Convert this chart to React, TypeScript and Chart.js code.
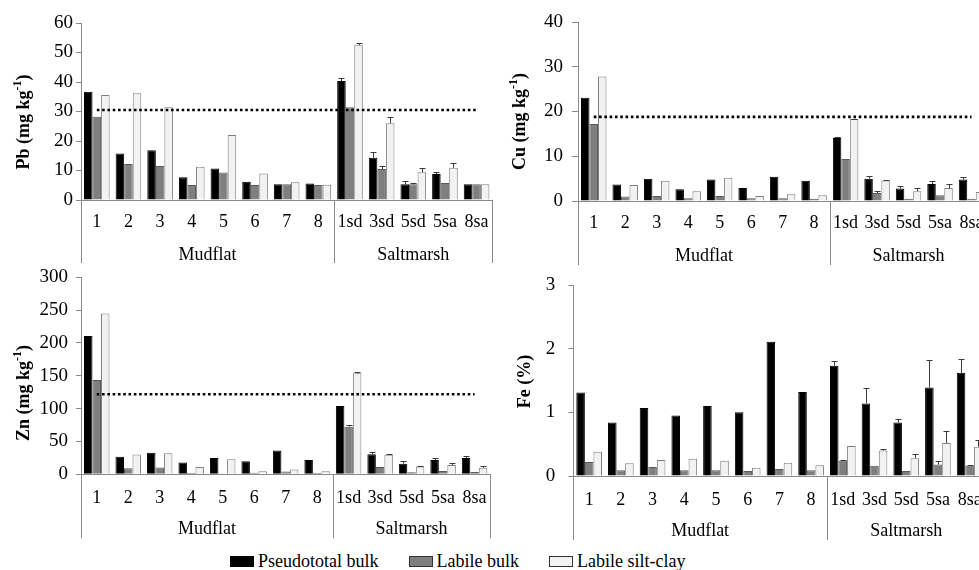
import React, { useEffect, useRef } from "react";
import { Chart, registerables } from "chart.js";

Chart.register(...registerables);

const FONT = '"Liberation Serif", "Times New Roman", serif';

// ---------- data ----------
const categories = ["1", "2", "3", "4", "5", "6", "7", "8", "1sd", "3sd", "5sd", "5sa", "8sa"];
const groups = ["Mudflat", "Saltmarsh"];
const groupSizes = [8, 5];
const seriesNames = ["Pseudototal bulk", "Labile bulk", "Labile silt-clay"];

// Pb (mg kg-1)
const pbPseudototal = [36.7, 15.8, 16.9, 7.7, 10.7, 6.2, 5.3, 5.6, 40.3, 14.3, 5.3, 8.8, 5.3];
const pbLabileBulk = [28.2, 12.2, 11.5, 5.1, 9.3, 5.1, 5.3, 5.1, 31.4, 10.5, 5.3, 5.8, 5.3];
const pbLabileSilt = [35.6, 36.2, 31.4, 11.3, 22.0, 9.0, 6.0, 5.2, 52.5, 26.0, 9.4, 10.9, 5.3];
const pbPseudototalErr = [0, 0, 0, 0, 0, 0, 0, 0, 1.0, 2.0, 1.3, 0.6, 0];
const pbLabileBulkErr = [0, 0, 0, 0, 0, 0, 0, 0, 0, 1.1, 0.5, 0, 0];
const pbLabileSiltErr = [0, 0, 0, 0, 0, 0, 0, 0, 0.6, 2.2, 1.4, 1.5, 0];
const pbThreshold = 30.5;

// Cu (mg kg-1)
const cuPseudototal = [23.1, 3.7, 5.0, 2.6, 4.8, 2.9, 5.4, 4.5, 14.1, 5.0, 2.8, 3.8, 4.8];
const cuLabileBulk = [17.2, 1.0, 1.1, 0.6, 1.1, 0.6, 0.6, 0.5, 9.4, 1.8, 0.5, 1.3, 0.5];
const cuLabileSilt = [27.8, 3.6, 4.5, 2.2, 5.2, 1.1, 1.5, 1.3, 18.3, 4.6, 2.2, 2.9, 2.0];
const cuPseudototalErr = [0, 0, 0, 0, 0, 0, 0, 0, 0.2, 0.5, 0.6, 0.7, 0.5];
const cuLabileBulkErr = [0, 0, 0, 0, 0, 0, 0, 0, 0, 0.4, 0, 0, 0];
const cuLabileSiltErr = [0, 0, 0, 0, 0, 0, 0, 0, 0.1, 0.1, 0.7, 0.9, 0];
const cuThreshold = 18.8;

// Zn (mg kg-1)
const znPseudototal = [210.5, 26.6, 32.7, 18.0, 25.0, 20.0, 36.2, 21.6, 104.0, 30.4, 16.2, 21.8, 24.8];
const znLabileBulk = [143.5, 9.4, 10.4, 1.8, 0.5, 2.3, 4.3, 1.8, 72.5, 11.0, 3.0, 5.0, 3.5];
const znLabileSilt = [245.0, 30.0, 32.2, 11.0, 23.0, 4.8, 7.3, 4.8, 153.7, 29.9, 11.7, 14.2, 10.0];
const znPseudototalErr = [0, 0, 0, 0, 0, 0, 0, 0, 0, 4.0, 3.5, 3.0, 2.5];
const znLabileBulkErr = [0, 0, 0, 0, 0, 0, 0, 0, 3.0, 0, 0, 0, 0];
const znLabileSiltErr = [0, 0, 0, 0, 0, 0, 0, 0, 2.0, 1.0, 0.5, 3.5, 2.0];
const znThreshold = 122;

// Fe (%)
const fePseudototal = [1.31, 0.84, 1.07, 0.95, 1.10, 1.00, 2.11, 1.32, 1.73, 1.14, 0.84, 1.39, 1.62];
const feLabileBulk = [0.22, 0.09, 0.14, 0.09, 0.09, 0.08, 0.11, 0.09, 0.24, 0.16, 0.08, 0.18, 0.16];
const feLabileSilt = [0.38, 0.20, 0.25, 0.27, 0.24, 0.13, 0.21, 0.17, 0.47, 0.40, 0.28, 0.52, 0.46];
const fePseudototalErr = [0, 0, 0, 0, 0, 0, 0, 0, 0.07, 0.25, 0.06, 0.43, 0.21];
const feLabileBulkErr = [0, 0, 0, 0, 0, 0, 0, 0, 0.01, 0, 0, 0.05, 0.02];
const feLabileSiltErr = [0, 0, 0, 0, 0, 0, 0, 0, 0, 0.03, 0.06, 0.19, 0.1];

// ---------- styles ----------
const barFill = ["#000000", "#7f7f7f", "#f2f2f2"];
const barBorder = ["#000000", "#5a5a5a", "#7f7f7f"];
const axisColor = "#8a8a8a";

type TitlePart = { text: string; sup?: boolean };
type PanelCfg = {
  left: number; top: number; w: number; h: number;
  areaTop: number; yWidth: number; padRight: number; areaBottom: number;
  yMax: number; yStep: number; tickLen: number; tickPad: number;
  title: TitlePart[]; titleX: number; titleY: number;
  labelOffset: number; groupOffset: number; lineLen: number;
  series: number[][]; errors: number[][]; threshold: number | null;
};

const panels: PanelCfg[] = [
  {
    left: 0, top: 0, w: 500, h: 270, areaTop: 23, yWidth: 81, padRight: 6, areaBottom: 200,
    yMax: 60, yStep: 10, tickLen: 5, tickPad: 3,
    title: [{ text: "Pb (mg kg" }, { text: "-1", sup: true }, { text: ")" }], titleX: 24, titleY: 122,
    labelOffset: 22, groupOffset: 55, lineLen: 63,
    series: [pbPseudototal, pbLabileBulk, pbLabileSilt],
    errors: [pbPseudototalErr, pbLabileBulkErr, pbLabileSiltErr], threshold: pbThreshold,
  },
  {
    left: 495, top: 0, w: 500, h: 270, areaTop: 22, yWidth: 83, padRight: 7.5, areaBottom: 201,
    yMax: 40, yStep: 10, tickLen: 6, tickPad: 9,
    title: [{ text: "Cu (mg kg" }, { text: "-1", sup: true }, { text: ")" }], titleX: 25, titleY: 121.5,
    labelOffset: 22, groupOffset: 55, lineLen: 64,
    series: [cuPseudototal, cuLabileBulk, cuLabileSilt],
    errors: [cuPseudototalErr, cuLabileBulkErr, cuLabileSiltErr], threshold: cuThreshold,
  },
  {
    left: 0, top: 255, w: 500, h: 290, areaTop: 22.3, yWidth: 81, padRight: 6.2, areaBottom: 219.3,
    yMax: 300, yStep: 50, tickLen: 5, tickPad: 8,
    title: [{ text: "Zn (mg kg" }, { text: "-1", sup: true }, { text: ")" }], titleX: 24, titleY: 138,
    labelOffset: 24, groupOffset: 55, lineLen: 64,
    series: [znPseudototal, znLabileBulk, znLabileSilt],
    errors: [znPseudototalErr, znLabileBulkErr, znLabileSiltErr], threshold: znThreshold,
  },
  {
    left: 495, top: 255, w: 500, h: 290, areaTop: 30, yWidth: 78.3, padRight: 4.4, areaBottom: 221,
    yMax: 3, yStep: 1, tickLen: 5, tickPad: 13,
    title: [{ text: "Fe (%)" }], titleX: 30, titleY: 126.5,
    labelOffset: 24, groupOffset: 55, lineLen: 64,
    series: [fePseudototal, feLabileBulk, feLabileSilt],
    errors: [fePseudototalErr, feLabileBulkErr, feLabileSiltErr], threshold: null,
  },
];

function makePlugins(cfg: PanelCfg) {
  const errorBars = {
    id: "errorBars",
    afterDatasetsDraw(chart: any) {
      const ctx = chart.ctx;
      const ys = chart.scales.y;
      ctx.save();
      ctx.strokeStyle = "#3a3a3a";
      ctx.lineWidth = 1;
      cfg.errors.forEach((arr, di) => {
        const meta = chart.getDatasetMeta(di);
        meta.data.forEach((el: any, i: number) => {
          const e = arr[i];
          if (!e) return;
          const v = cfg.series[di][i];
          const yTop = Math.round(ys.getPixelForValue(v + e)) + 0.5;
          const x = Math.round(el.x) + 0.5;
          ctx.beginPath();
          ctx.moveTo(x, el.y);
          ctx.lineTo(x, yTop);
          ctx.moveTo(x - 3, yTop);
          ctx.lineTo(x + 3, yTop);
          ctx.stroke();
        });
      });
      ctx.restore();
    },
  };
  const groupAxis = {
    id: "groupAxis",
    afterDraw(chart: any) {
      const ctx = chart.ctx;
      const xs = chart.scales.x;
      const ca = chart.chartArea;
      const bounds: number[] = [ca.left];
      let idx = 0;
      groupSizes.forEach((n) => {
        idx += n;
        if (idx >= categories.length) bounds.push(ca.right);
        else bounds.push((xs.getPixelForValue(idx - 1) + xs.getPixelForValue(idx)) / 2);
      });
      ctx.save();
      ctx.strokeStyle = axisColor;
      ctx.lineWidth = 1;
      bounds.forEach((b) => {
        const x = Math.round(b) + 0.5;
        ctx.beginPath();
        ctx.moveTo(x, ca.bottom);
        ctx.lineTo(x, ca.bottom + cfg.lineLen);
        ctx.stroke();
      });
      ctx.fillStyle = "#000";
      ctx.font = `18px ${FONT}`;
      ctx.textAlign = "center";
      ctx.textBaseline = "middle";
      groups.forEach((g, i) => {
        ctx.fillText(g, (bounds[i] + bounds[i + 1]) / 2, ca.bottom + cfg.groupOffset);
      });
      ctx.restore();
    },
  };
  const yTitle = {
    id: "yTitle",
    afterDraw(chart: any) {
      const ctx = chart.ctx;
      const big = `bold 18px ${FONT}`;
      const small = `bold 12px ${FONT}`;
      ctx.save();
      ctx.translate(cfg.titleX, cfg.titleY);
      ctx.rotate(-Math.PI / 2);
      ctx.fillStyle = "#000";
      ctx.textBaseline = "middle";
      ctx.textAlign = "left";
      const widths = cfg.title.map((p) => {
        ctx.font = p.sup ? small : big;
        return ctx.measureText(p.text).width;
      });
      const total = widths.reduce((a, b) => a + b, 0);
      let cx = -total / 2;
      cfg.title.forEach((p, i) => {
        ctx.font = p.sup ? small : big;
        ctx.fillText(p.text, cx, p.sup ? -6 : 0);
        cx += widths[i];
      });
      ctx.restore();
    },
  };
  return [errorBars, groupAxis, yTitle];
}

function Panel({ cfg }: { cfg: PanelCfg }) {
  const ref = useRef<HTMLCanvasElement>(null);
  useEffect(() => {
    const datasets: any[] = cfg.series.map((d, i) => ({
      type: "bar",
      label: seriesNames[i],
      data: d,
      backgroundColor: barFill[i],
      borderColor: barBorder[i],
      borderWidth: 1,
      borderSkipped: "start",
      categoryPercentage: 0.81,
      barPercentage: 1,
      order: 1,
    }));
    if (cfg.threshold !== null) {
      const t = cfg.threshold;
      datasets.push({
        type: "line",
        label: "threshold",
        data: categories.map(() => t),
        borderColor: "#000",
        borderWidth: 2.6,
        borderDash: [2.6, 2.7],
        borderCapStyle: "butt",
        pointRadius: 0,
        fill: false,
        order: 0,
      });
    }
    const chart = new Chart(ref.current as HTMLCanvasElement, {
      type: "bar",
      data: { labels: categories, datasets },
      options: {
        animation: false,
        responsive: false,
        maintainAspectRatio: false,
        devicePixelRatio: 1,
        layout: { padding: { left: 0, top: cfg.areaTop, right: cfg.padRight, bottom: 0 } },
        plugins: { legend: { display: false }, tooltip: { enabled: false }, title: { display: false } },
        scales: {
          x: {
            offset: true,
            grid: { display: false, drawTicks: false },
            border: { display: true, color: axisColor, width: 1 },
            ticks: {
              color: "#000",
              font: { family: FONT, size: 18 },
              padding: cfg.labelOffset - 10.8,
              maxRotation: 0,
              minRotation: 0,
              autoSkip: false,
            },
            afterFit: (s: any) => { s.height = cfg.h - cfg.areaBottom; },
          },
          y: {
            min: 0,
            max: cfg.yMax,
            grid: { display: true, drawOnChartArea: false, drawTicks: true, tickLength: cfg.tickLen, color: axisColor },
            border: { display: true, color: axisColor, width: 1 },
            ticks: {
              stepSize: cfg.yStep,
              color: "#000",
              font: { family: FONT, size: 19 },
              padding: cfg.tickPad,
            },
            afterFit: (s: any) => { s.width = cfg.yWidth; },
          },
        },
      } as any,
      plugins: makePlugins(cfg) as any,
    });
    return () => chart.destroy();
  }, []);
  return (
    <canvas
      ref={ref}
      width={cfg.w}
      height={cfg.h}
      style={{ position: "absolute", left: cfg.left, top: cfg.top, width: cfg.w, height: cfg.h }}
    />
  );
}

export default function App() {
  return (
    <div
      style={{
        position: "absolute",
        left: 0,
        top: 0,
        width: 979,
        height: 570,
        overflow: "hidden",
        background: "#fff",
      }}
    >
      {panels.map((p, i) => (
        <Panel key={i} cfg={p} />
      ))}
      <div
        style={{
          position: "absolute",
          left: 230,
          top: 551,
          height: 20,
          display: "flex",
          alignItems: "center",
          whiteSpace: "nowrap",
          fontFamily: FONT,
          fontSize: 18,
          lineHeight: "20px",
          color: "#000",
        }}
      >
        {seriesNames.map((n, i) => (
          <div key={n} style={{ display: "flex", alignItems: "center", marginRight: 30 }}>
            <span
              style={{
                display: "inline-block",
                width: 24,
                height: 11,
                boxSizing: "border-box",
                background: barFill[i],
                border: `1px solid ${i === 0 ? "#000" : "#333"}`,
                marginRight: 4,
              }}
            />
            <span>{n}</span>
          </div>
        ))}
      </div>
    </div>
  );
}
